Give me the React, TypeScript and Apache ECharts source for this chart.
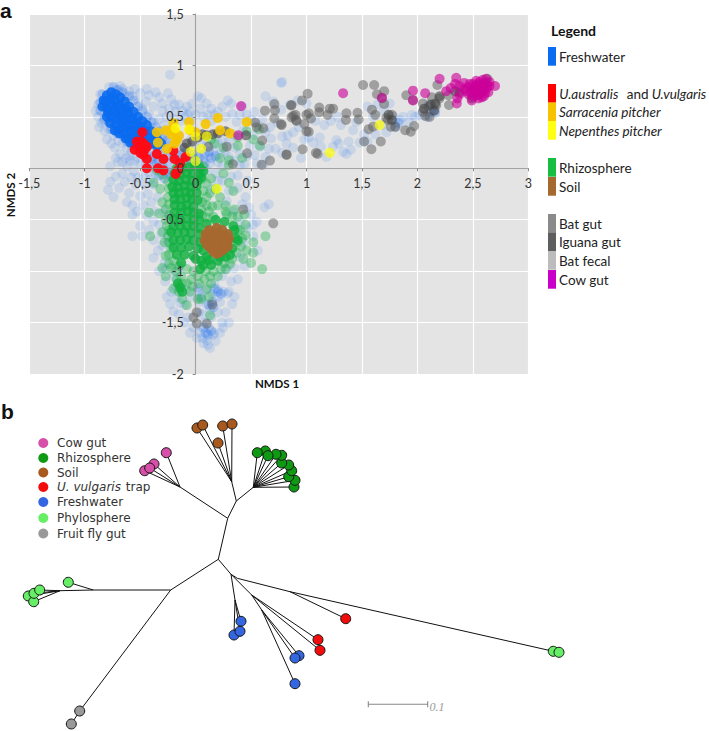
import React, { useEffect, useRef } from "react";
import * as echarts from "echarts";

type P = number[];

const xTicks = { min: -1.5, max: 3, step: 0.5 };
const yTicks = { min: -2, max: 1.5, step: 0.5 };

const freshwaterSparse: P[] = [
  [-.78,.79],[-.72,.76],[-.66,.77],[-.6,.75],[-.55,.77],[-.5,.73],[-.45,.65],[-.42,.71],[-.33,.69],[-.3,.63],[-.25,.73],[-.22,.67],[-.24,.58],[-.18,.55],[-.15,.62],[-.1,.5],[-.07,.52],[-.05,.45],[-.03,.63],[.02,.7],[.05,.68],[.1,.63],[.14,.58],[.17,.52],[.24,.6],[.29,.66],[.32,.63],[.42,.6],[.53,.55],[.63,.7],[.7,.65],[.77,.57],[.85,.62],[.77,.83],[-.23,.91],[-.86,.72],[-.88,.62],[-.88,.5],[-.87,.4],[-.83,.46],[-.82,.36],[-.78,.38],[-.74,.32],[-.7,.27],[-.66,.24],[-.73,.2],[-.68,.14],[-.62,.2],[-.63,.1],[-.58,.16],[-.55,.07],[-.7,.06],[-.77,.02],[-.62,.02],[-.56,-.03],[-.5,.04],[-.47,-.07],[-.42,-.04],[-.77,-.13],[-.79,-.21],[-.74,-.28],[-.69,-.19],[-.64,-.13],[-.6,-.24],[-.54,-.16],[-.5,-.27],[-.57,-.36],[-.47,-.36],[-.57,-.45],[-.43,-.25],[-.38,-.16],[-.34,-.28],[-.37,-.42],[-.44,-.46],[-.5,-.56],[-.57,-.66],[-.48,-.66],[-.42,-.6],[-.38,-.87],[-.33,-.55],[-.3,-.75],[-.28,-.92],[-.35,.12],[-.3,.2],[-.28,.28],[-.25,.12],[-.22,.22],[-.15,.3],[-.12,.2],[-.08,.06],[-.04,.02],[.02,.14],[.07,.08],[.12,.12],[.16,.17],[.2,.06],[.24,.02],[.3,.11],[.35,.2],[.4,.14],[.44,.04],[.49,.22],[.52,.32],[.58,.21],[.63,.11],[.68,.29],[.72,.19],[.78,.31],[.74,.44],[.83,.32],[.88,.2],[.92,.66],[1,.63],[.95,.1],[1.02,.3],[1.08,.46],[1.13,.21],[1.18,.11],[1.27,.275],[1.33,.16],[1.24,.21],[1.38,.26],[1.42,.37],[1.29,.24],[1.48,.25],[1.55,.26],[1.6,.5],[1.64,.62],[1.75,.63],[1.72,.35],[1.87,.5],[1.98,.5],[2.02,.52],[2.16,.57],[2.1,.62],[1.8,.44],[1.84,.47],[.78,.84],[.05,-.05],[.1,-.02],[.18,-.05],[.24,-.12],[.32,-.08],[.38,-.19],[.45,-.28],[.47,-.12],[.28,-.32],[.34,-.42],[.4,-.52],[.47,-.58],[.52,-.66],[.56,-.8],[.62,-.38],[.66,-.35],[.4,-.86],[.35,-.97],[.32,-1.1],[.3,-1.2],[.25,-1.2],[.285,-1.22],[.22,-1.3],[.2,-1.4],[.24,-1.5],[.245,-1.55],[.165,-1.6],[.04,-1.6],[.11,-1.72],[.1,-1.67],[.12,-1.55],[.06,-1.65],[.16,-1.62],[.14,-1.45],[.08,-1.5],[.03,-1.4],[-.02,-1.55],[-.07,-1.45],[-.2,-1.39],[-.14,-1.31],[-.22,-1.2],[-.275,-1.1],[-.17,-1.25],[-.1,-1.33],[-.05,-1.25],[.02,-1.2],[.09,-1.18],[.15,-1.22],[.2,-1.18],[.17,-1.12],[.03,-1.3],[-.09,-1.18],[.1,-1.32],[.06,-1.42],[.13,-1.37],[.2,-1.25],[-.2,-1.05],[-.27,-.98],[-.16,-.98],[.24,-1.05],[.28,-.98],
  [-.84,.55],[-.9,.56],[-.85,.44],[-.8,.28],[-.76,.24],[-.71,.34],[-.64,.3],[-.58,.22],[-.52,.19],[-.48,.14],[-.6,.12],[-.66,.06],[-.72,.1],[-.59,.07],[-.52,.1],[-.46,.03],[-.4,.04],[-.35,.05],[-.38,.45],[-.33,.48],[-.28,.42],[-.42,.52],[-.38,.6],[-.48,.58],[-.52,.64],[-.57,.7],[-.64,.72],[-.68,.8],[-.44,.77],[-.36,.74],[-.3,.56],[-.26,.5],[-.2,.48],[-.14,.46],[-.19,.62],[-.12,.56],[-.08,.6],[-.05,.55],[0,.52],[.04,.58],[.07,.5],[.11,.52],[.14,.46],[.2,.55],[.27,.5],[.33,.53],[.37,.45],[.4,.52],[.46,.52],[.5,.47],[.56,.42],[.6,.48],[.63,.35],[.67,.4],[.43,.37],[.34,.33],[.3,.26],[.24,.27],[.2,.24],[.1,.23],[.06,.24],[0,.2],[-.04,.28],[.13,.05],[.22,.14],[.27,.17],[.35,.07],[.4,.03],[.47,.12],[.53,.13],[.55,.05],[.61,.03],[.66,.19],[.78,.15],[.82,.24],[.88,.35],[.93,.4],[.98,.28],[1.06,.25],[1.12,.3],[1.16,.42],[1.22,.46],[1.28,.5],[1.31,.42],[1.36,.14],[1.4,.18],[1.45,.45],[1.52,.33],[1.55,.6],[1.62,.33],[1.68,.42],[1.7,.56],[1.78,.5],[1.92,.45],[1.95,.52],[-.72,-.08],[-.66,-.05],[-.58,-.09],[-.52,-.09],[-.46,-.16],[-.41,-.11],[-.36,-.05],[-.62,-.33],[-.53,-.42],[-.4,-.33],[-.38,-.52],[-.29,-.42],[-.24,-.47],[-.31,-.64],[-.38,-.7],[-.34,-.8],[-.25,-.7],[-.33,-1.0],[.5,-.45],[.55,-.52],[.48,-.38],[.42,-.35],[.38,-.07],[.3,-.22],[.2,-.12],[.14,-.2],[.43,-.72],[.52,-.55],[.44,-.95],[.38,-1.08],[.35,-1.25],[.33,-1.32],[.27,-1.4],[.3,-1.5],[.22,-1.6],[.18,-1.68],[.13,-1.75],[.07,-1.7],[.01,-1.65],[-.05,-1.6],[-.1,-1.5],[-.15,-1.42],[-.23,-1.32],[-.26,-1.25],[-.18,-1.15]
];

const freshwaterMid: P[] = [
  [-.36,.2],[-.3,.14],[-.25,.05],[-.2,.1],[-.33,.07],[-.38,.12],[-.3,.02],[-.26,-.04],[-.21,-.03],[-.16,.12],[-.12,.14],[-.08,.17],[-.03,.13],[.03,.11],[.08,.14],[.14,.1],[-.36,.27],[-.3,.29],[-.44,.15],[-.4,.09],[-.37,.03],[-.33,-.07],[-.28,-.1],[-.22,-.08],[.15,-1.3],[.12,-1.33],[.16,-1.35],[.11,-1.62],[.14,-1.58],[.09,-1.6],[.07,-1.55],[.2,-1.2],[.23,-1.22],[.17,-1.17],[.05,-1.25],[.02,-1.16],[1.83,.44],[1.8,.4],[2.16,.54],[2.12,.55],[2.09,.5],[-.86,.64],[-.84,.72],[-.86,.56],[-.82,.48],[-.78,.44],[-.76,.38],[-.72,.36],[-.66,.32],[-.62,.26],[-.56,.24],[-.5,.22],[-.46,.21],[-.66,.74],[-.6,.7],[-.56,.66],[-.52,.6],[-.48,.56],[-.44,.5],[-.4,.45],[-.36,.4],[-.32,.36],[-.74,.79],[-.7,.76],[-.26,.27],[-.22,.16],[-.12,.07],[-.05,.07],[.02,.06],[.08,.05],[.12,.16],[.18,.12]
];

const freshwaterCore: P[] = [
  [-.83,.66],[-.84,.6],[-.8,.71],[-.81,.65],[-.8,.59],[-.79,.54],[-.8,.5],[-.76,.74],[-.77,.67],[-.76,.62],[-.75,.56],[-.76,.5],[-.77,.44],[-.72,.72],[-.73,.66],[-.71,.6],[-.72,.54],[-.71,.48],[-.72,.42],[-.73,.37],[-.68,.69],[-.69,.62],[-.67,.56],[-.68,.5],[-.67,.44],[-.68,.38],[-.69,.34],[-.64,.65],[-.63,.58],[-.65,.52],[-.64,.46],[-.63,.4],[-.65,.34],[-.63,.29],[-.6,.6],[-.61,.54],[-.59,.48],[-.6,.42],[-.59,.36],[-.61,.3],[-.59,.25],[-.56,.55],[-.57,.48],[-.55,.42],[-.56,.36],[-.55,.3],[-.56,.25],[-.52,.5],[-.53,.44],[-.51,.38],[-.52,.32],[-.53,.27],[-.48,.46],[-.49,.4],[-.47,.34],[-.48,.28],[-.44,.42],[-.45,.36],[-.43,.3],[-.44,.25],[-.4,.36],[-.41,.3],[-.39,.24],[-.36,.32],[-.37,.27],[-.34,.27],[-.35,.22],[-.31,.24]
];

const rhizosphereSparse: P[] = [
  [-.35,-.02],[-.3,-.06],[-.38,-.14],[-.32,-.2],[-.25,-.13],[-.25,-.28],[-.3,-.33],[-.33,-.44],[-.27,-.4],[-.27,-.5],[-.42,-.43],[-.41,-.66],[-.3,-.62],[-.24,-.6],[-.28,-.72],[-.22,-.78],[-.27,-.85],[-.3,-.97],[-.24,-.93],[-.27,-1.05],[-.18,-1.0],[-.13,-1.05],[-.2,-1.17],[-.15,-1.2],[-.08,-1.12],[-.12,-1.27],[-.05,-1.2],[-.08,-1.33],[.03,-1.12],[.09,-1.0],[.13,-1.05],[.1,-1.17],[.05,-1.27],[.12,-1.25],[.02,-1.27],[.13,-1.43],[.2,-1.05],[.27,-.98],[.26,-.92],[.33,-.88],[.37,-.82],[.41,-.76],[.45,-.65],[.46,-.8],[.52,-.72],[.52,-.82],[.5,-.92],[.43,-.88],[.38,-.6],[.45,-.55],[.42,-.68],[.38,-.47],[.33,-.47],[.28,-.45],[.27,-.36],[.34,-.22],[.3,-.14],[.18,-.2],[.25,-.05],[.14,-.1],[.1,-.28],[.15,-.37],[.22,-.28],[.05,-.4],[.1,-.48],[.16,-.47],[.3,.08],[.42,.1],[.52,.28],[.58,.22],[.57,.38],[.46,.36],[.38,.3],[.22,.1],[.3,.03],[.44,-.45],[.63,-.66],[.6,-.98],[.14,.28],[.17,.24],[.07,.02],[-.1,.08],[-.02,.1],[.03,.03],[-.18,-.04],[.25,.2],[.38,.22],
  [.06,-.1],[.1,-.15],[.07,-.22],[.1,-.36],[.06,-.33],[.13,-.24],[.2,-.36],[.27,-.42],[.06,-.46],[.12,-.42],[-.24,-.2],[-.24,-.35],[-.24,-.45],[-.26,-.56],[-.25,-.66],[-.24,-.72],[-.24,-.84],[-.2,-.9],[-.22,-.97],[-.15,-.95],[-.08,-.98],[-.02,-1.0],[-.04,-1.08],[.02,-1.05],[.08,-1.08],[.16,-1.0],[.23,-.98],[.31,-.93],[.37,-.72],[.4,-.6],[.35,-.4],[-.17,-1.08],[-.12,-1.12],[-.03,-1.15],[.14,-1.12]
];

const rhizosphereCore: P[] = [
  [-.17,.0],[-.12,.0],[-.06,.01],[-.01,.02],[.04,.0],[-.19,-.05],[-.14,-.06],[-.08,-.05],[-.03,-.05],[.03,-.06],[.07,-.03],[-.2,-.11],[-.15,-.12],[-.09,-.11],[-.03,-.12],[.02,-.12],[.05,-.09],[-.21,-.18],[-.16,-.18],[-.1,-.17],[-.04,-.18],[.01,-.17],[-.2,-.24],[-.15,-.24],[-.09,-.23],[-.04,-.24],[.01,-.24],[-.19,-.3],[-.14,-.3],[-.08,-.29],[-.03,-.3],[.02,-.31],[-.19,-.36],[-.13,-.37],[-.08,-.36],[-.02,-.37],[-.19,-.43],[-.13,-.43],[-.07,-.42],[-.02,-.43],[.03,-.44],[-.2,-.49],[-.14,-.5],[-.08,-.49],[-.02,-.5],[.03,-.5],[-.2,-.56],[-.14,-.56],[-.08,-.56],[-.02,-.56],[.03,-.58],[-.22,-.62],[-.16,-.63],[-.1,-.62],[-.04,-.63],[-.2,-.7],[-.14,-.7],[-.08,-.69],[-.02,-.7],[.04,-.72],[-.2,-.77],[-.13,-.77],[-.06,-.76],[.02,-.78],[.1,-.86],[.07,-.8],[-.17,-.84],[-.1,-.84],[-.02,-.85],[.05,-.9],[.14,-.94],[.2,-.9],[.27,-.86],[.33,-.78],[.36,-.68],[.34,-.56],[.26,-.52],[.18,-.5],[.1,-.54],[.03,-.64],[-.13,-.92],[.04,-.98],[.07,-.94],[.0,-.88],[-.16,-1.12],[-.14,-1.16],[-.12,-1.2],[.31,-.84],[.35,-.6],[.38,-.7],[.22,-.86],[.12,-.89]
];

const soil: P[] = [
  [.09,-.64],[.08,-.7],[.1,-.74],[.12,-.6],[.14,-.67],[.14,-.73],[.14,-.78],[.19,-.58],[.19,-.66],[.19,-.72],[.19,-.78],[.19,-.83],[.24,-.6],[.24,-.68],[.24,-.74],[.24,-.8],[.29,-.64],[.29,-.71],[.29,-.76],[.17,-.69],[.22,-.71],[.27,-.73],[.12,-.64],[.16,-.62],[.21,-.63],[.26,-.65],[.11,-.7],[.12,-.76],[.16,-.81],[.21,-.82],[.26,-.78],[.3,-.68]
];

const uAustralisVulgaris: P[] = [
  [-.48,.35],[-.53,.26],[-.49,.26],[-.55,.18],[-.44,.21],[-.47,.13],[-.44,.09],[-.44,0],[-.35,.14],[-.29,.09],[-.34,0],[-.29,-.02],[-.2,.17],[-.19,.09],[-.14,.05],[-.09,.11],[-.18,-.055],[-.16,-.02],[-.5,.2],[-.46,.18],[-.5,.15],[-.47,.24]
];

const sarracenia: P[] = [
  [-.35,.35],[-.27,.37],[-.2,.44],[-.06,.45],[.09,.43],[.2,.49],[.22,.37],[.31,.34],[.46,.45],[0,.35],[-.05,.37],[-.19,.36],[-.22,.33],[-.17,.275],[-.19,.24],[-.34,.25],[-.26,.19],[-.23,.37],[-.15,.32]
];

const nepenthes: P[] = [
  [-.18,.39],[-.06,.38],[0,.31],[.1,.31],[.05,.19],[-.045,.16],[0,.07],[1.21,.15],[1.66,.42],[.19,-.2]
];

const batAndIguanaGut: P[] = [
  [1.01,.725],[.96,.66],[.86,.61],[1.115,.59],[1.115,.545],[1.24,.58],[1.21,.58],[1.19,.52],[1.02,.535],[1,.52],[1.04,.485],[.9,.52],[.865,.495],[.91,.46],[.98,.43],[1.02,.355],[1,.36],[.776,.42],[1.36,.535],[1.355,.47],[1.46,.54],[1.47,.475],[1.59,.57],[1.62,.52],[1.56,.38],[1.6,.405],[1.51,.81],[1.61,.81],[1.635,.72],[1.7,.75],[1.68,.68],[1.7,.625],[1.72,.49],[1.77,.52],[1.735,.47],[1.76,.405],[1.8,.405],[1.89,.37],[1.94,.355],[1.97,.41],[1.52,.26],[1.67,.26],[1.585,.185],[.965,.185],[.82,.13],[1.085,.15],[1.1,.14],[1.9,.71],[1.96,.665],[2.05,.63],[2.13,.69],[2.18,.81],[2.2,.68],[2.05,.55],[2.1,.6],[2.17,.615],[2.07,.51],[2.11,.5],[2.285,.615],[2.28,.71],[2.63,.87],[.71,.625],[.625,.56],[.715,.565],[.71,.485],[.865,.615],[.88,.51],[.905,.47],[.77,.43],[.535,.445],[.55,.4],[.61,.39],[.465,.145],[.82,.136],[.67,.075],[.595,.035],[.335,.04],[.28,.21],[.6,.27],[.115,.21],[.43,-.4],[.7,-.535],[.15,-1.325],[.01,-1.4],[.01,-1.51],[.1,-1.51],[-.02,-1.45]
];

const iguanaGut: P[] = [
  [-.08,.24],[-.03,.26],[.02,.3],[.155,.33],[.27,.36],[-.1,.2],[.06,.33],[.1,.32],[.2,.34],[.455,.32],[2.12,.62],[2.16,.63],[2.06,.58],[2.15,.56],[2.2,.7],[2.34,.75],[2.38,.74],[2.49,.68],[1.77,.47],[1.74,.52]
];

const cowGut: P[] = [
  [1.33,.73],[1.96,.755],[2.07,.73],[2.2,.87],[2.35,.88],[1.68,.685],[1.96,.66],[2.7,.8],[.41,.605],[.385,.32],[2.355,.63],[2.49,.66],[2.36,.68],[2.38,.72],[2.26,.75],[2.3,.78],[2.34,.82],[2.38,.8],[2.42,.77],[2.42,.83],[2.46,.72],[2.46,.79],[2.5,.7],[2.5,.76],[2.5,.82],[2.53,.74],[2.53,.8],[2.56,.72],[2.56,.78],[2.56,.84],[2.59,.75],[2.59,.81],[2.59,.86],[2.62,.77],[2.62,.83],[2.65,.8],[2.64,.74],[2.55,.68],[2.6,.7],[2.53,.85],[2.62,.87],[2.44,.75],[2.48,.74],[2.52,.77],[2.54,.71],[2.57,.75],[2.58,.8],[2.6,.78],[2.61,.73],[2.63,.8],[2.55,.82],[2.51,.79],[2.47,.82],[2.65,.84],[2.58,.69]
];

const legendTitle = "Legend";
const legendKeys = [
  { parts: [["Freshwater", 559, false]], top: 47, color: "#0a6cf0" },
  { parts: [["U.australis", 559.3, true], ["and", 626.7, false], ["U.vulgaris", 651.7, true]], top: 84, color: "#ff0000" },
  { parts: [["Sarracenia pitcher", 559, true]], top: 102.5, color: "#f7c200" },
  { parts: [["Nepenthes pitcher", 559, true]], top: 121, color: "#ffff14" },
  { parts: [["Rhizosphere", 559, false]], top: 158, color: "#17bf40" },
  { parts: [["Soil", 559, false]], top: 177, color: "#a5682f" },
  { parts: [["Bat gut", 559, false]], top: 214, color: "#8a8a8a" },
  { parts: [["Iguana gut", 559, false]], top: 232.5, color: "#5e5e5e" },
  { parts: [["Bat fecal", 559, false]], top: 251, color: "#bcbcbc" },
  { parts: [["Cow gut", 559, false]], top: 270, color: "#c800c8" },
];

// Panel b: the tree, on a hidden page-sized scale
const treeCowGut: P[] = [[166.3,452.7],[154,464],[144.7,470.7],[149.7,468]];
const treeRhizosphere: P[] = [[294,487],[295,480.3],[288.7,476.7],[291.7,470.7],[288.7,465],[281.7,463],[281.7,455.3],[276,454.3],[265.3,451],[268,455.7],[257.3,452.7]];
const treeSoil: P[] = [[197,428],[202.7,425],[218,443],[222.7,426],[232,424]];
const treeTrap: P[] = [[345.7,618.7],[318,639.7],[320,650.3]];
const treeFreshwater: P[] = [[241,621.3],[234,635],[240,631.3],[299,655.7],[295,658],[295,683.7]];
const treePhylosphere: P[] = [[68.3,582.3],[28.3,596],[33.7,601.7],[34,593.3],[39.7,590],[553.3,651.3],[559,652.3]];
const treeFruitFly: P[] = [[79.7,711],[71.3,724]];

const treeEdges: number[][] = [
  [218.3,559.3,227.7,518.3],[227.7,518.3,236.3,501],[236.3,501,253.3,487.3],
  [253.3,487.3,294,487],[253.3,487.3,295,480.3],[253.3,487.3,288.7,476.7],[253.3,487.3,291.7,470.7],[253.3,487.3,288.7,465],[253.3,487.3,281.7,463],[253.3,487.3,281.7,455.3],[253.3,487.3,276,454.3],[253.3,487.3,265.3,451],[253.3,487.3,268,455.7],[253.3,487.3,257.3,452.7],
  [236.3,501,231.7,481.7],[231.7,481.7,197,428],[231.7,481.7,202.7,425],[231.7,481.7,218,443],[231.7,481.7,222.7,426],[231.7,481.7,232,424],
  [227.7,518.3,180,487],[180,487,166.3,452.7],[180,487,154,464],[180,487,149.7,468],[180,487,144.7,470.7],
  [218.3,559.3,170.7,590],[170.7,590,93.3,590],[93.3,590,68.3,582.3],[93.3,590,60,590.7],[60,590.7,39.7,590],[60,590.7,34,593.3],[60,590.7,28.3,596],[60,590.7,33.7,601.7],
  [170.7,590,79.7,711],[79.7,711,71.3,724],
  [218.3,559.3,231,574.3],[231,574.3,235,600],[235,600,241,621.3],[235,600,240,631.3],[235,600,234,635],
  [231,574.3,237.3,578.3],[237.3,578.3,290,591.7],[290,591.7,553.3,651.3],[290,591.7,345.7,618.7],
  [231,574.3,251.7,595],[251.7,595,318,639.7],[251.7,595,320,650.3],[251.7,595,261.7,610],[261.7,610,299,655.7],[261.7,610,295,658],[261.7,610,295,683.7],
];

const treeLegend = [
  { parts: ["Cow gut"], top: 443, color: "#d64fa8" },
  { parts: ["Rhizosphere"], top: 458, color: "#0f9a14" },
  { parts: ["Soil"], top: 472.5, color: "#a85a1e" },
  { parts: ["U. vulgaris", " trap"], top: 487, color: "#f20c0c" },
  { parts: ["Freshwater"], top: 502, color: "#3366e0" },
  { parts: ["Phylosphere"], top: 518, color: "#66ee66" },
  { parts: ["Fruit fly gut"], top: 533.5, color: "#999999" },
];

const scaleBar: number[][] = [[368.3,704.3,427.7,704.3],[368.3,701.3,368.3,707.3],[427.7,701.3,427.7,707.3]];

const FONT = "Lato";

function scatter(name: string, data: P[], color: string, opacity: number, z: number, size = 10) {
  return {
    name, type: "scatter", xAxisIndex: 0, yAxisIndex: 0, data, symbolSize: size, z,
    itemStyle: { color, opacity, borderWidth: 0 }, silent: true,
  };
}
function treeNodes(name: string, data: P[], color: string) {
  return {
    name, type: "scatter", xAxisIndex: 2, yAxisIndex: 2, data, symbolSize: 10, z: 12,
    itemStyle: { color, opacity: 1, borderColor: "#151515", borderWidth: 1 }, silent: true,
  };
}
function segments(name: string, data: number[][], stroke: string, width: number) {
  return {
    name, type: "custom", xAxisIndex: 2, yAxisIndex: 2, data, z: 11, silent: true, clip: false,
    encode: { x: [0, 2], y: [1, 3] },
    renderItem: (_p: any, api: any) => {
      const a = api.coord([api.value(0), api.value(1)]);
      const b = api.coord([api.value(2), api.value(3)]);
      return { type: "line", shape: { x1: a[0], y1: a[1], x2: b[0], y2: b[1] }, style: { stroke, lineWidth: width, fill: null } };
    },
  };
}
const comma = (v: number) => String(v).replace(".", ",");

export default function App() {
  const ref = useRef<HTMLDivElement>(null);
  useEffect(() => {
    const chart = echarts.init(ref.current!, undefined, { renderer: "svg" });
    const graphic: any[] = [
      { type: "text", x: 0, y: 0, style: { text: "a", font: "bold 21px 'Liberation Sans'", fill: "#111" } },
      { type: "text", x: 1, y: 401, style: { text: "b", font: "bold 21px 'Liberation Sans'", fill: "#111" } },
      { type: "text", x: 277, y: 383, style: { text: "NMDS 1", font: `bold 11.5px ${FONT}`, fill: "#111", align: "center", verticalAlign: "middle" } },
      { type: "text", x: 10, y: 195, rotation: Math.PI / 2, style: { text: "NMDS 2", font: `bold 11.5px ${FONT}`, fill: "#111", align: "center", verticalAlign: "middle" } },
      { type: "text", x: 551, y: 30, style: { text: legendTitle, font: `bold 14px ${FONT}`, fill: "#111", verticalAlign: "middle" } },
      { type: "text", x: 429.5, y: 707, style: { text: "0.1", font: "italic 12px 'Liberation Serif'", fill: "#999", verticalAlign: "middle" } },
    ];
    legendKeys.forEach((k) => {
      graphic.push({ type: "rect", shape: { x: 548, y: k.top, width: 8, height: 18.7 }, style: { fill: k.color } });
      k.parts.forEach(([text, x, italic]) => {
        graphic.push({ type: "text", x, y: k.top + 9.5, style: { text, font: `${italic ? "italic " : ""}13.5px ${FONT}`, fill: "#222", verticalAlign: "middle" } });
      });
    });
    treeLegend.forEach((k) => {
      graphic.push({ type: "circle", shape: { cx: 43.3, cy: k.top, r: 5 }, style: { fill: k.color } });
      if (k.parts.length === 1) {
        graphic.push({ type: "text", x: 57, y: k.top, style: { text: k.parts[0], font: "12px 'DejaVu Sans'", fill: "#333", verticalAlign: "middle" } });
      } else {
        graphic.push({ type: "text", x: 57, y: k.top, style: { text: k.parts[0], font: "italic 12px 'DejaVu Sans'", fill: "#333", verticalAlign: "middle" } });
        graphic.push({ type: "text", x: 122, y: k.top, style: { text: k.parts[1], font: "12px 'DejaVu Sans'", fill: "#333", verticalAlign: "middle" } });
      }
    });

    const mainAxis = { type: "value", gridIndex: 0, z: 9, axisLine: { show: true, onZero: true, onZeroAxisIndex: 0, lineStyle: { color: "#8c8c8c", width: 1.2, opacity: 0.8 } }, axisTick: { show: true, length: 3, lineStyle: { color: "#8c8c8c" } }, splitLine: { show: false }, axisLabel: { show: true, formatter: comma, color: "#333", fontFamily: FONT, fontSize: 12.5 } };
    const gridAxis = { type: "value", gridIndex: 0, z: 0, axisLine: { show: false, onZero: false }, axisTick: { show: false }, axisLabel: { show: false }, splitLine: { show: true, lineStyle: { color: "#ffffff", width: 1.2 } } };
    const hidden = { type: "value", gridIndex: 1, show: false, splitLine: { show: false } };

    chart.setOption({
      animation: false,
      backgroundColor: "#ffffff",
      grid: [
        { left: 29.3, top: 14, width: 499, height: 360, show: true, backgroundColor: "#e4e4e4", borderWidth: 0 },
        { left: 0, top: 0, width: 709, height: 731, show: false },
      ],
      xAxis: [
        { ...mainAxis, min: xTicks.min, max: xTicks.max, interval: xTicks.step, axisLabel: { ...mainAxis.axisLabel, margin: -196.7 } },
        { ...gridAxis, min: xTicks.min, max: xTicks.max, interval: xTicks.step },
        { ...hidden, min: 0, max: 709 },
      ],
      yAxis: [
        { ...mainAxis, min: yTicks.min, max: yTicks.max, interval: yTicks.step, axisLabel: { ...mainAxis.axisLabel, margin: -154.4 } },
        { ...gridAxis, min: yTicks.min, max: yTicks.max, interval: yTicks.step },
        { ...hidden, min: 0, max: 731, inverse: true },
      ],
      series: [
        scatter("Freshwater", freshwaterSparse, "#2a78f0", 0.14, 2),
        scatter("Freshwater", freshwaterMid, "#2a78f0", 0.28, 2),
        scatter("Freshwater", freshwaterCore, "#0a6cf0", 0.9, 2),
        scatter("Rhizosphere", rhizosphereSparse, "#17b04a", 0.38, 3),
        scatter("Rhizosphere", rhizosphereCore, "#10b040", 0.82, 3),
        scatter("Soil", soil, "#a5682f", 0.95, 3),
        scatter("Bat and iguana gut", batAndIguanaGut, "#5c5c5c", 0.5, 4),
        scatter("Iguana gut", iguanaGut, "#444444", 0.6, 4),
        scatter("U.australis and U.vulgaris", uAustralisVulgaris, "#ff0a14", 0.95, 5),
        scatter("Sarracenia pitcher", sarracenia, "#f5c400", 0.9, 5),
        scatter("Nepenthes pitcher", nepenthes, "#ffff00", 0.7, 5),
        scatter("Cow gut", cowGut, "#cc0099", 0.62, 5),
        segments("Tree", treeEdges, "#111111", 1),
        segments("Scale", scaleBar, "#888888", 1.1),
        treeNodes("Cow gut", treeCowGut, "#d64fa8"),
        treeNodes("Rhizosphere", treeRhizosphere, "#0f9a14"),
        treeNodes("Soil", treeSoil, "#a85a1e"),
        treeNodes("U. vulgaris trap", treeTrap, "#f20c0c"),
        treeNodes("Freshwater", treeFreshwater, "#3366e0"),
        treeNodes("Phylosphere", treePhylosphere, "#66ee66"),
        treeNodes("Fruit fly gut", treeFruitFly, "#999999"),
      ],
      graphic,
    });
    return () => chart.dispose();
  }, []);
  return <div ref={ref} style={{ position: "absolute", left: 0, top: 0, width: 709, height: 731 }} />;
}
